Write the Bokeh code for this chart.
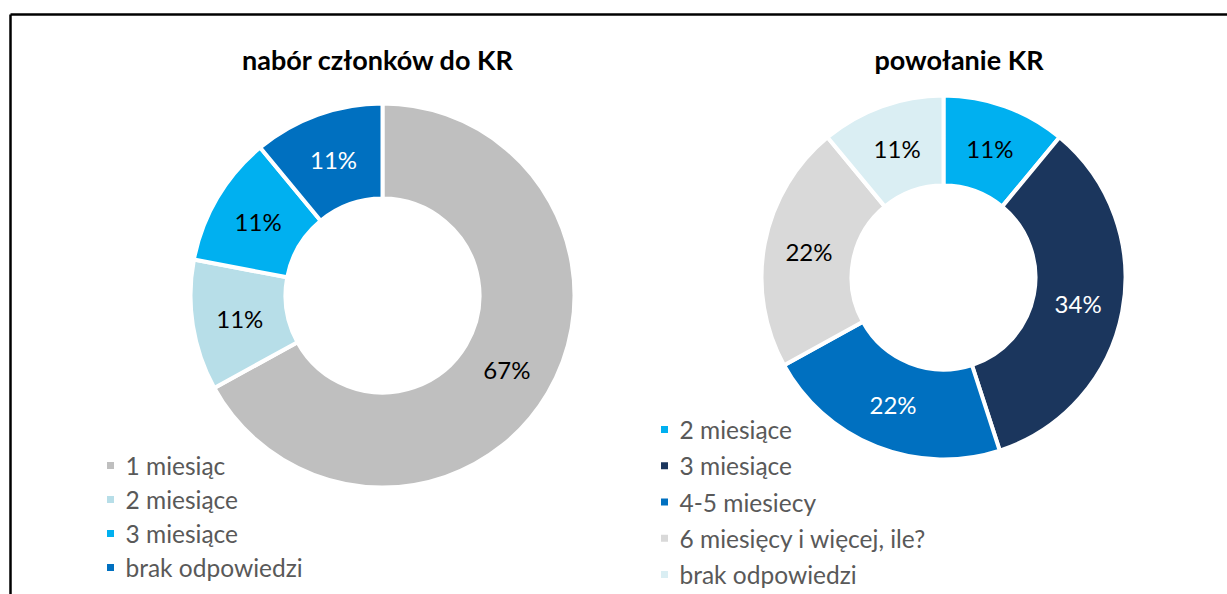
import math
from bokeh.plotting import figure
from bokeh.models import Range1d, ColumnDataSource
from bokeh.core.properties import value
from bokeh.embed import file_html
from bokeh.resources import INLINE

# ---------------- data ----------------
title_left = "nabór członków do KR"
cats_left = ["1 miesiąc", "2 miesiące", "3 miesiące", "brak odpowiedzi"]
vals_left = [67, 11, 11, 11]
colors_left = ["#BFBFBF", "#B7DEE8", "#00B0F0", "#0070C0"]
labelcol_left = ["#000000", "#000000", "#000000", "#FFFFFF"]

title_right = "powołanie KR"
cats_right = ["2 miesiące", "3 miesiące", "4-5 miesiecy",
              "6 miesięcy i więcej, ile?", "brak odpowiedzi"]
vals_right = [11, 34, 22, 22, 11]
colors_right = ["#00B0F0", "#1B365D", "#0070C0", "#D9D9D9", "#DAEEF3"]
labelcol_right = ["#000000", "#FFFFFF", "#FFFFFF", "#000000", "#000000"]

# ---------------- layout ----------------
W, H = 1227, 594
FONT = "Lato"


def sy(y_screen):
    return H - y_screen


p = figure(width=W, height=H, x_range=Range1d(0, W), y_range=Range1d(0, H),
           output_backend="svg", toolbar_location=None, min_border=0,
           x_axis_type=None, y_axis_type=None)
p.grid.visible = False
p.outline_line_color = None
p.background_fill_color = "white"
p.border_fill_color = "white"

# frame (top and left edges)
p.segment(x0=[10, 10], y0=[sy(14), sy(14)], x1=[1240, 10], y1=[sy(14), sy(610)],
          line_color="black", line_width=2.5)


def donut(cx, cy_s, r_out, r_in, vals, colors, lcols):
    total = float(sum(vals))
    starts, ends, lx, ly = [], [], [], []
    cum = 0.0
    rm = (r_out + r_in) / 2.0
    for v in vals:
        a0 = math.pi / 2 - 2 * math.pi * cum / total
        a1 = math.pi / 2 - 2 * math.pi * (cum + v) / total
        starts.append(a0)
        ends.append(a1)
        mid = (a0 + a1) / 2
        lx.append(cx + rm * math.cos(mid))
        ly.append(sy(cy_s) + rm * math.sin(mid))
        cum += v
    src = ColumnDataSource(dict(start=starts, end=ends, color=colors,
                                lx=lx, ly=ly, lc=lcols,
                                txt=["%d%%" % v for v in vals]))
    p.annular_wedge(x=cx, y=sy(cy_s), inner_radius=r_in - 2, outer_radius=r_out + 2,
                    start_angle="start", end_angle="end", direction="clock",
                    fill_color="color", line_color="white", line_width=4, source=src)
    p.text(x="lx", y="ly", text="txt", text_color="lc", source=src,
           text_font=value(FONT), text_font_size="24px",
           text_align="center", text_baseline="middle")


def legend(x0, y0_s, dy, cats, colors):
    ys = [sy(y0_s + i * dy) for i in range(len(cats))]
    src = ColumnDataSource(dict(x=[x0] * len(cats), tx=[x0 + 15] * len(cats),
                                y=ys, c=colors, t=cats))
    p.scatter(x="x", y="y", marker="square", size=7, fill_color="c", line_color=None, source=src)
    p.text(x="tx", y="y", text="t", source=src, text_color="#595959",
           text_font=value(FONT), text_font_size="24.5px",
           text_align="left", text_baseline="middle")


donut(382, 295, 190, 99, vals_left, colors_left, labelcol_left)
donut(943, 277, 180, 94, vals_right, colors_right, labelcol_right)

legend(110, 465, 34, cats_left, colors_left)
legend(664, 429, 36.25, cats_right, colors_right)

p.text(x=[377.5, 958.5], y=[sy(59), sy(59)], text=[title_left, title_right],
       text_font=value(FONT), text_font_style="bold", text_font_size="27px",
       text_color="black", text_align="center", text_baseline="middle")

open("out.html", "w").write(file_html(p, INLINE))
